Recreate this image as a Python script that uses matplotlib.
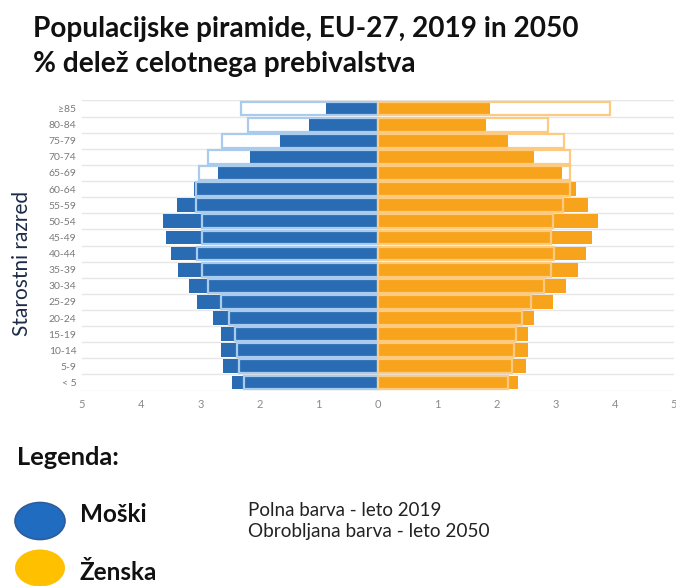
import matplotlib.pyplot as plt
import numpy as np
from matplotlib.patches import Ellipse

age_groups = ["< 5", "5-9", "10-14", "15-19", "20-24", "25-29", "30-34", "35-39",
              "40-44", "45-49", "50-54", "55-59", "60-64", "65-69", "70-74",
              "75-79", "80-84", "≥85"]

# % share of total population, EU-27
male_2019 = [2.47, 2.61, 2.65, 2.66, 2.78, 3.05, 3.20, 3.37, 3.49, 3.58, 3.63,
             3.39, 3.10, 2.70, 2.17, 1.66, 1.17, 0.88]
male_2050 = [2.27, 2.34, 2.38, 2.42, 2.52, 2.66, 2.87, 2.97, 3.05, 2.97, 2.98,
             3.07, 3.07, 3.02, 2.88, 2.63, 2.20, 2.32]
female_2019 = [2.37, 2.50, 2.54, 2.53, 2.64, 2.96, 3.17, 3.37, 3.51, 3.61, 3.71,
               3.54, 3.34, 3.10, 2.63, 2.20, 1.83, 1.90]
female_2050 = [2.19, 2.27, 2.30, 2.33, 2.44, 2.59, 2.80, 2.92, 2.98, 2.92, 2.95,
               3.12, 3.24, 3.25, 3.25, 3.14, 2.88, 3.92]

x_ticks = [-5, -4, -3, -2, -1, 0, 1, 2, 3, 4, 5]

BLUE = "#2a6cb3"
BLUE_LIGHT = "#a8cbee"
ORANGE = "#f8a31c"
ORANGE_LIGHT = "#fcca80"

W, H = 676, 586
fig = plt.figure(figsize=(W / 100, H / 100), dpi=100)
plt.rcParams['font.family'] = ['Lato', 'DejaVu Sans']


def fx(px):
    return px / W


def fy(py):
    return 1 - py / H


ax = fig.add_axes([fx(82), fy(390.5), fx(674) - fx(82), fy(100.5) - fy(390.5)])

y = np.arange(len(age_groups))
h = 0.86

ax.barh(y, -np.array(male_2019), height=h, color=BLUE, linewidth=0, zorder=2)
ax.barh(y, female_2019, height=h, color=ORANGE, linewidth=0, zorder=2)
ax.barh(y, -np.array(male_2050), height=h, facecolor="none",
        edgecolor=BLUE_LIGHT, linewidth=1.6, zorder=3)
ax.barh(y, female_2050, height=h, facecolor="none",
        edgecolor=ORANGE_LIGHT, linewidth=1.6, zorder=3)

ax.set_xlim(-5, 5)
ax.set_ylim(-0.5, len(age_groups) - 0.5)
for b in np.arange(-0.5, len(age_groups), 1.0):
    ax.axhline(b, color="#e6e6e6", linewidth=1.0, zorder=1)

ax.set_yticks(y)
ax.set_yticklabels(age_groups, fontsize=7.5, color="#7a7a7a")
ax.set_xticks(x_ticks)
ax.set_xticklabels([str(abs(v)) for v in x_ticks], fontsize=8, color="#8a8a8a")
ax.tick_params(length=0, pad=4)
ax.tick_params(axis="x", pad=6)
for s in ax.spines.values():
    s.set_visible(False)

fig.text(fx(22), fy(263), "Starostni razred", rotation=90, fontsize=15,
         color="#1c2b4a", ha="center", va="center")

# headings
fig.text(fx(33), fy(37), "Populacijske piramide, EU-27, 2019 in 2050",
         fontsize=20.2, fontweight=700, color="#111111", ha="left", va="baseline")
fig.text(fx(33), fy(72), "% delež celotnega prebivalstva",
         fontsize=20.2, fontweight=700, color="#111111", ha="left", va="baseline")

# legend
fig.text(fx(17), fy(465), "Legenda:", fontsize=18.3, fontweight=700,
         color="#111111", ha="left", va="baseline")
fig.add_artist(Ellipse((fx(40), fy(521)), fx(50), 37 / H, facecolor="#1f6cc1",
                       edgecolor="#2f5b9a", linewidth=1.2, transform=fig.transFigure))
fig.add_artist(Ellipse((fx(40), fy(568)), fx(50), 37 / H, facecolor="#ffc000",
                       edgecolor="none", transform=fig.transFigure))
fig.text(fx(80), fy(522), "Moški", fontsize=17.5, fontweight=700,
         color="#111111", ha="left", va="baseline")
fig.text(fx(80), fy(580), "Ženska", fontsize=17.5, fontweight=700,
         color="#111111", ha="left", va="baseline")
fig.text(fx(248), fy(516), "Polna barva - leto 2019", fontsize=13.5,
         color="#222222", ha="left", va="baseline")
fig.text(fx(248), fy(537), "Obrobljana barva - leto 2050", fontsize=13.7,
         color="#222222", ha="left", va="baseline")

fig.savefig("out.png", dpi=100)
